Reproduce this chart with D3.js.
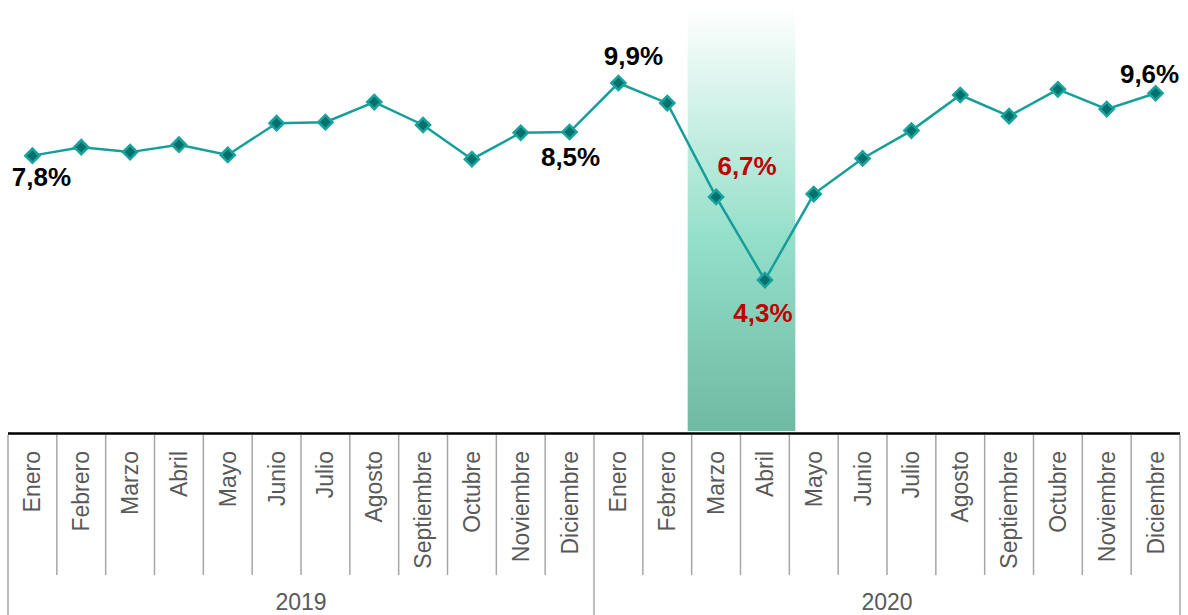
<script src="https://d3js.org/d3.v7.min.js"></script>
<style>
  body { margin: 0; background: #fff; }
  text { font-family: "Liberation Sans", Arial, sans-serif; }
</style>
<svg width="1188" height="615"></svg>
<script>
// months shown under each year
var months = ["Enero","Febrero","Marzo","Abril","Mayo","Junio","Julio","Agosto","Septiembre","Octubre","Noviembre","Diciembre"];
var years = ["2019","2020"];
// values (%)
var values2019 = [7.84, 8.08, 7.94, 8.15, 7.86, 8.76, 8.79, 9.36, 8.71, 7.74, 8.49, 8.51];
var values2020 = [9.90, 9.33, 6.67, 4.31, 6.75, 7.76, 8.55, 9.56, 8.96, 9.72, 9.16, 9.61];
// point labels
var labelIndex = [0, 11, 12, 14, 15, 23];
var labelText = ["7,8%", "8,5%", "9,9%", "6,7%", "4,3%", "9,6%"];
var labelRed = [false, false, false, true, true, false];
// highlighted months (index into the 24 months)
var highlight = [14, 15];

var values = values2019.concat(values2020);
var svg = d3.select("svg");

var x = d3.scaleBand().domain(d3.range(values.length)).range([8, 1180]).padding(0);
var y = d3.scaleLinear().domain([0, 12]).range([432, 9]);
var xc = function(i) { return x(i) + x.bandwidth() / 2; };

// gradient band
var grad = svg.append("defs").append("linearGradient")
    .attr("id", "band").attr("x1", 0).attr("y1", 0).attr("x2", 0).attr("y2", 1);
grad.append("stop").attr("offset", "0%").attr("stop-color", "#ffffff");
grad.append("stop").attr("offset", "55%").attr("stop-color", "#93dfc9");
grad.append("stop").attr("offset", "100%").attr("stop-color", "#70b9a3");

var bx0 = x(highlight[0]) - 4;
var bx1 = x(highlight[1]) + x.bandwidth() + 6;
svg.append("rect")
    .attr("x", bx0).attr("y", y(12) - 1)
    .attr("width", bx1 - bx0).attr("height", y(0) - y(12))
    .attr("fill", "url(#band)");

// category separators
var seps = d3.range(values.length + 1);
svg.selectAll("line.sep").data(seps).enter().append("line")
    .attr("class", "sep")
    .attr("x1", function(d) { return d == values.length ? x.range()[1] : x(d); })
    .attr("x2", function(d) { return d == values.length ? x.range()[1] : x(d); })
    .attr("y1", y(0) + 3)
    .attr("y2", function(d) { return d % 12 == 0 ? 615 : 575; })
    .attr("stroke", "#a6a6a6")
    .attr("stroke-width", 1.5);

// axis line
svg.append("line")
    .attr("x1", x.range()[0]).attr("x2", x.range()[1])
    .attr("y1", y(0) + 1.5).attr("y2", y(0) + 1.5)
    .attr("stroke", "#000").attr("stroke-width", 2.5);

// month labels
svg.selectAll("text.month").data(values).enter().append("text")
    .attr("class", "month")
    .attr("transform", function(d, i) { return "translate(" + xc(i) + "," + 451 + ") rotate(-90)"; })
    .attr("dy", "0.35em")
    .attr("text-anchor", "end")
    .style("font-size", "23px")
    .style("fill", "#595959")
    .text(function(d, i) { return months[i % 12]; });

// year labels
svg.selectAll("text.year").data(years).enter().append("text")
    .attr("class", "year")
    .attr("x", function(d, i) { return (x(i * 12) + (i == years.length - 1 ? x.range()[1] : x((i + 1) * 12))) / 2; })
    .attr("y", 610)
    .attr("text-anchor", "middle")
    .style("font-size", "23px")
    .style("fill", "#595959")
    .text(function(d) { return d; });

// line
var line = d3.line().x(function(d, i) { return xc(i); }).y(function(d) { return y(d); });
svg.append("path").datum(values)
    .attr("d", line)
    .attr("fill", "none")
    .attr("stroke", "#149f9a")
    .attr("stroke-width", 2.5);

// diamond markers
svg.selectAll("rect.pt").data(values).enter().append("rect")
    .attr("class", "pt")
    .attr("x", -5).attr("y", -5).attr("width", 10).attr("height", 10)
    .attr("transform", function(d, i) { return "translate(" + xc(i) + "," + y(d) + ") rotate(45)"; })
    .attr("fill", "#00716c")
    .attr("stroke", "#1aa39d")
    .attr("stroke-width", 2.5);

// value labels
var offsets = [[9, 30], [1, 34], [15, -18], [31, -22], [-2, 42], [-6, -10]];
labelIndex.forEach(function(idx, k) {
    svg.append("text")
        .attr("x", xc(idx) + offsets[k][0])
        .attr("y", y(values[idx]) + offsets[k][1])
        .attr("text-anchor", "middle")
        .style("font-size", "26px")
        .style("font-weight", "bold")
        .style("fill", labelRed[k] ? "#c00000" : "#000")
        .text(labelText[k]);
});
</script>
